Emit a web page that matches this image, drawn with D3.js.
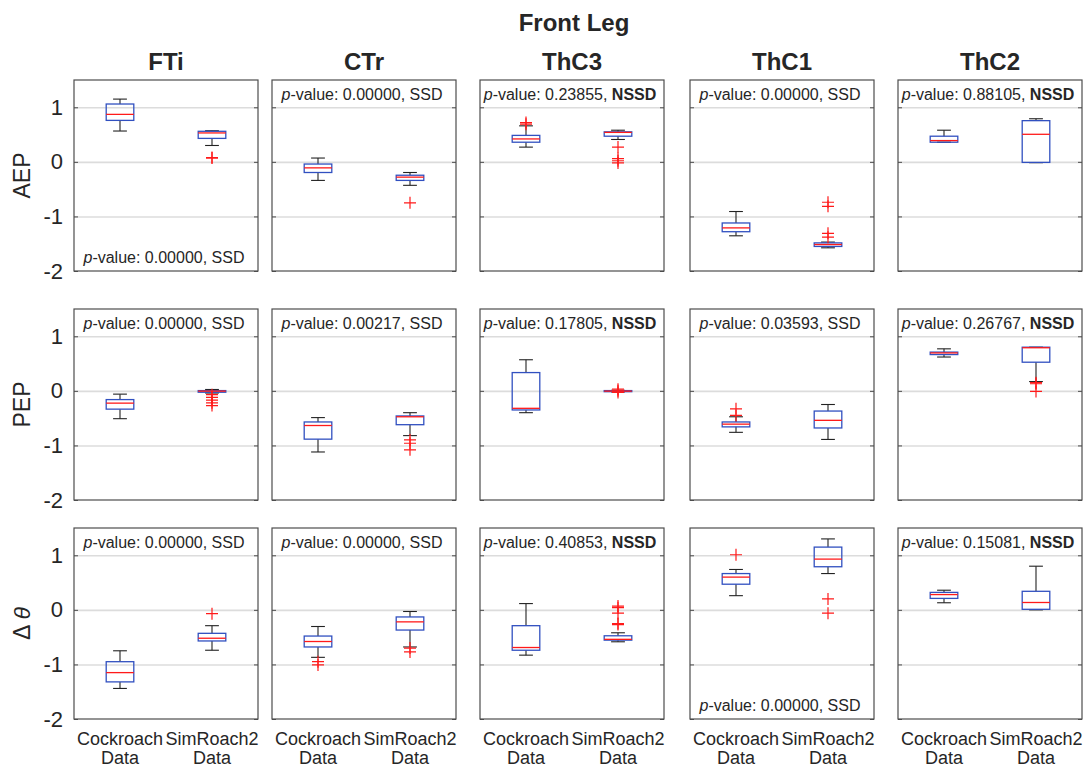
<!DOCTYPE html>
<html>
<head>
<meta charset="utf-8">
<script src="https://cdn.jsdelivr.net/npm/d3@7"></script>
<style>
  body { margin: 0; background: #fff; }
  text { font-family: "Liberation Sans", Arial, sans-serif; fill: #262626; }
</style>
</head>
<body>
<div id="chart"></div>
<script>
const joints = ["FTi", "CTr", "ThC3", "ThC1", "ThC2"];
const params = ["AEP", "PEP", "dtheta"];
const groups = ["Cockroach", "SimRoach2"];
const yTicks = [-2, -1, 0, 1];

// box stats per joint: [cockroach, simroach2], each [whiskerLow, q1, median, q3, whiskerHigh]
const aepBoxes = [
  [[0.565, 0.76, 0.87, 1.06, 1.15], [0.30, 0.43, 0.53, 0.56, 0.57]],
  [[-0.34, -0.195, -0.11, -0.04, 0.07], [-0.43, -0.34, -0.28, -0.245, -0.195]],
  [[0.27, 0.36, 0.42, 0.485, 0.66], [0.41, 0.47, 0.54, 0.55, 0.58]],
  [[-1.355, -1.28, -1.21, -1.12, -0.91], [-1.575, -1.55, -1.515, -1.485, -1.47]],
  [[0.36, 0.36, 0.39, 0.47, 0.58], [-0.015, -0.01, 0.505, 0.755, 0.79]]
];
const aepOutliers = [
  [[], [0.07, 0.08]],
  [[], [-0.75]],
  [[0.72, 0.69], [0.27, 0.06, 0.02, -0.02]],
  [[], [-0.74, -0.815, -1.31, -1.38]],
  [[], []]
];

const pepBoxes = [
  [[-0.51, -0.335, -0.225, -0.16, -0.06], [-0.04, -0.025, -0.005, 0.005, 0.025]],
  [[-1.12, -0.885, -0.635, -0.57, -0.49], [-0.82, -0.62, -0.475, -0.46, -0.40]],
  [[-0.40, -0.35, -0.32, 0.335, 0.57], [-0.02, -0.015, -0.005, 0.005, 0.01]],
  [[-0.76, -0.66, -0.61, -0.57, -0.475], [-0.89, -0.68, -0.54, -0.37, -0.25]],
  [[0.62, 0.665, 0.695, 0.71, 0.77], [0.17, 0.525, 0.79, 0.80, 0.80]]
];
const pepOutliers = [
  [[], [-0.07, -0.12, -0.17, -0.22, -0.27]],
  [[], [-0.90, -0.96, -1.08]],
  [[], [0.03, 0.0, -0.03]],
  [[-0.33, -0.45], []],
  [[], [0.15, 0.13, -0.01]]
];

const dthetaBoxes = [
  [[-1.44, -1.32, -1.15, -0.95, -0.75], [-0.74, -0.57, -0.52, -0.43, -0.29]],
  [[-0.87, -0.68, -0.58, -0.48, -0.305], [-0.68, -0.37, -0.22, -0.13, -0.03]],
  [[-0.83, -0.74, -0.69, -0.29, 0.115], [-0.585, -0.555, -0.54, -0.475, -0.42]],
  [[0.26, 0.47, 0.60, 0.665, 0.74], [0.665, 0.79, 0.93, 1.15, 1.30]],
  [[0.13, 0.21, 0.28, 0.32, 0.36], [0.0, 0.01, 0.135, 0.34, 0.80]]
];
const dthetaOutliers = [
  [[], [-0.07]],
  [[-0.95, -1.01], [-0.70, -0.77]],
  [[], [0.07, 0.04, -0.06, -0.25, -0.27]],
  [[1.01], [0.20, -0.06]],
  [[], []]
];

const pValues = [
  ["0.00000", "0.00000", "0.23855", "0.00000", "0.88105"],
  ["0.00000", "0.00217", "0.17805", "0.03593", "0.26767"],
  ["0.00000", "0.00000", "0.40853", "0.00000", "0.15081"]
];
// panels whose p-value text sits at the bottom [row, col]
const bottomLabels = [[0, 0], [2, 3]];

const allBoxes = [aepBoxes, pepBoxes, dthetaBoxes];
const allOutliers = [aepOutliers, pepOutliers, dthetaOutliers];

const W = 1089, H = 767;
const colLeft = [74, 272, 480, 690, 898];
const rowTop = [80, 309, 528];
const pw = 184, ph = 191;

const svg = d3.select("#chart").append("svg")
  .attr("width", W).attr("height", H);

svg.append("text")
  .attr("x", 574).attr("y", 31)
  .attr("text-anchor", "middle")
  .style("font-size", "24px").style("font-weight", "bold")
  .text("Front Leg");

const x = d3.scaleLinear().domain([0.5, 2.5]).range([0, pw]);
const y = d3.scaleLinear().domain([-2, 1.5]).range([ph, 0]);

params.forEach((param, r) => {
  joints.forEach((joint, c) => {
    const g = svg.append("g")
      .attr("transform", `translate(${colLeft[c]},${rowTop[r]})`);

    g.append("rect").attr("width", pw).attr("height", ph).attr("fill", "#fff");

    // grid
    g.append("g")
      .call(d3.axisLeft(y).tickValues([-1, 0, 1]).tickSize(-pw).tickFormat(""))
      .call(s => s.select(".domain").remove())
      .selectAll("line").attr("stroke", "#dcdcdc").attr("stroke-width", 1.6);

    // ticks
    const left = g.append("g")
      .call(d3.axisLeft(y).tickValues(yTicks).tickSize(-4).tickPadding(11)
        .tickFormat(c === 0 ? d => String(d) : ""));
    left.select(".domain").remove();
    left.selectAll("line").attr("stroke", "#4d4d4d");
    left.selectAll("text").style("font-size", "22px").attr("fill", "#262626")
      .style("font-family", '"Liberation Sans", Arial, sans-serif');
    const right = g.append("g").attr("transform", `translate(${pw},0)`)
      .call(d3.axisRight(y).tickValues(yTicks).tickSize(-4).tickFormat(""));
    right.select(".domain").remove();
    right.selectAll("line").attr("stroke", "#4d4d4d");

    const boxes = allBoxes[r][c];
    const outs = allOutliers[r][c];
    boxes.forEach((b, i) => {
      const cx = x(i + 1);
      const bw = x(1.15) - x(1);
      const cw = x(1.075) - x(1);
      const [lo, q1, med, q3, hi] = b;
      const bg = g.append("g");
      // whiskers
      bg.append("line").attr("x1", cx).attr("x2", cx).attr("y1", y(q3)).attr("y2", y(hi));
      bg.append("line").attr("x1", cx).attr("x2", cx).attr("y1", y(q1)).attr("y2", y(lo));
      bg.append("line").attr("x1", cx - cw).attr("x2", cx + cw).attr("y1", y(hi)).attr("y2", y(hi));
      bg.append("line").attr("x1", cx - cw).attr("x2", cx + cw).attr("y1", y(lo)).attr("y2", y(lo));
      bg.selectAll("line").attr("stroke", "#222").attr("stroke-width", 1.1);
      // box
      bg.append("rect")
        .attr("x", cx - bw).attr("y", y(q3))
        .attr("width", 2 * bw).attr("height", Math.max(y(q1) - y(q3), 1))
        .attr("fill", "none").attr("stroke", "#3150c0").attr("stroke-width", 1.3);
      bg.append("line")
        .attr("x1", cx - bw).attr("x2", cx + bw).attr("y1", y(med)).attr("y2", y(med))
        .attr("stroke", "#ff1a1a").attr("stroke-width", 1.3);
      // outliers
      bg.selectAll(".out").data(outs[i]).enter().append("path")
        .attr("d", d => `M${cx - 6},${y(d)}H${cx + 6}M${cx},${y(d) - 6}V${y(d) + 6}`)
        .attr("stroke", "#ff1a1a").attr("stroke-width", 1.2).attr("fill", "none");
    });

    // frame
    g.append("rect").attr("width", pw).attr("height", ph)
      .attr("fill", "none").attr("stroke", "#4d4d4d").attr("stroke-width", 1.2);

    // p-value label
    const atBottom = bottomLabels.some(d => d[0] === r && d[1] === c);
    const p = pValues[r][c];
    const sig = +p < 0.05;
    const t = g.append("text")
      .attr("x", pw / 2 - 2)
      .attr("y", atBottom ? ph - 8.5 : 19.5)
      .attr("text-anchor", "middle")
      .style("font-size", "16px")
      .attr("fill", "#1a1a1a");
    t.append("tspan").style("font-style", "italic").text("p");
    t.append("tspan").text(`-value: ${p}, `);
    t.append("tspan").style("font-weight", sig ? "normal" : "bold").text(sig ? "SSD" : "NSSD");

    if (r === 0) {
      svg.append("text")
        .attr("x", colLeft[c] + pw / 2).attr("y", 70)
        .attr("text-anchor", "middle")
        .style("font-size", "24px").style("font-weight", "bold")
        .text(joint);
    }
    if (r === params.length - 1) {
      groups.forEach((grp, i) => {
        const lbl = svg.append("text")
          .attr("x", colLeft[c] + x(i + 1))
          .attr("text-anchor", "middle")
          .style("font-size", "18px");
        lbl.append("tspan").attr("x", colLeft[c] + x(i + 1)).attr("y", 745).text(grp);
        lbl.append("tspan").attr("x", colLeft[c] + x(i + 1)).attr("y", 764).text("Data");
      });
    }
  });

  // row label
  const yl = svg.append("text")
    .attr("transform", `translate(30,${rowTop[r] + ph / 2}) rotate(-90)`)
    .attr("text-anchor", "middle")
    .style("font-size", "23px");
  if (param === "dtheta") {
    yl.append("tspan").text("Δ ");
    yl.append("tspan").style("font-style", "italic").text("θ");
  } else {
    yl.text(param);
  }
});
</script>
</body>
</html>
